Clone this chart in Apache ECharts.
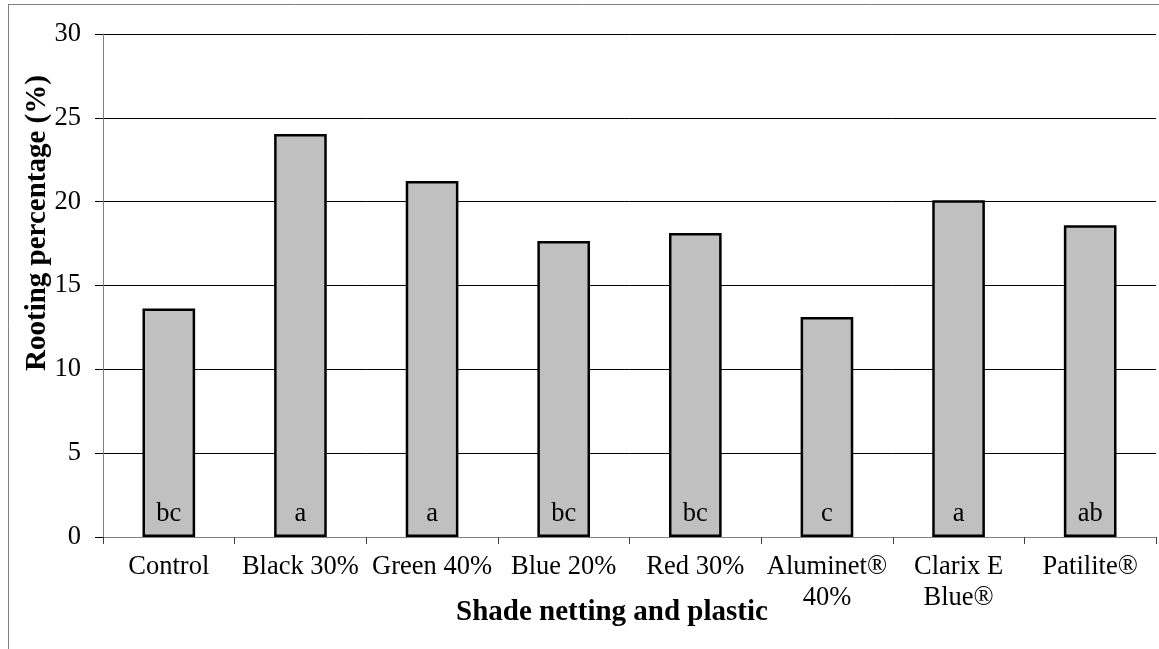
<!DOCTYPE html>
<html>
<head>
<meta charset="utf-8">
<script src="https://cdn.jsdelivr.net/npm/echarts@6/dist/echarts.min.js"></script>
<style>
html,body{margin:0;padding:0;background:#fff;}
#chart{width:1159px;height:649px;}
</style>
</head>
<body>
<div id="chart"></div>
<script>
var categories = ['Control', 'Black 30%', 'Green 40%', 'Blue 20%', 'Red 30%', 'Aluminet®\n40%', 'Clarix E\nBlue®', 'Patilite®'];
var rootingValues = [13.63, 24.03, 21.23, 17.66, 18.13, 13.12, 20.08, 18.6];
var letters = ['bc', 'a', 'a', 'bc', 'bc', 'c', 'a', 'ab'];
var yTicks = [0, 5, 10, 15, 20, 25, 30];
var xTitle = 'Shade netting and plastic';
var yTitle = 'Rooting percentage (%)';

var FONT = "'Liberation Serif', 'Times New Roman', serif";
var chart = echarts.init(document.getElementById('chart'), null, {renderer: 'canvas'});
chart.setOption({
  animation: false,
  backgroundColor: '#ffffff',
  grid: {left: 103, right: 3, top: 34, bottom: 112, containLabel: false},
  xAxis: {
    type: 'category',
    data: categories,
    axisLine: {show: true, lineStyle: {color: '#808080', width: 1}},
    axisTick: {show: true, length: 7, inside: false, alignWithLabel: false, lineStyle: {color: '#404040'}},
    axisLabel: {color: '#000', fontFamily: FONT, fontSize: 26.5, lineHeight: 31, margin: 15, interval: 0},
    splitLine: {show: false}
  },
  yAxis: {
    type: 'value',
    min: yTicks[0],
    max: yTicks[yTicks.length - 1],
    interval: 5,
    axisLine: {show: true, lineStyle: {color: '#808080', width: 1}},
    axisTick: {show: true, length: 8, lineStyle: {color: '#000'}},
    axisLabel: {color: '#000', fontFamily: FONT, fontSize: 26.5, margin: 22},
    splitLine: {show: true, lineStyle: {color: '#000', width: 1}}
  },
  series: [{
    type: 'bar',
    data: rootingValues,
    barWidth: '40%',
    itemStyle: {color: '#C0C0C0', borderColor: '#000', borderWidth: 2.5},
    label: {
      show: true,
      position: 'insideBottom',
      distance: 9,
      formatter: function (p) { return letters[p.dataIndex]; },
      color: '#000', fontFamily: FONT, fontSize: 26.5
    }
  }],
  graphic: [
    {type: 'line', shape: {x1: 8, y1: 4.5, x2: 1159, y2: 4.5}, style: {stroke: '#808080', lineWidth: 1}, silent: true},
    {type: 'line', shape: {x1: 8.5, y1: 4, x2: 8.5, y2: 649}, style: {stroke: '#808080', lineWidth: 1}, silent: true},
    {type: 'text', x: 38, y: 223, rotation: Math.PI / 2,
      style: {text: yTitle, font: 'bold 29px ' + FONT, fill: '#000', textAlign: 'center', textVerticalAlign: 'middle'}},
    {type: 'text', x: 612, y: 613,
      style: {text: xTitle, font: 'bold 29px ' + FONT, fill: '#000', textAlign: 'center', textVerticalAlign: 'middle'}}
  ]
});
</script>
</body>
</html>
